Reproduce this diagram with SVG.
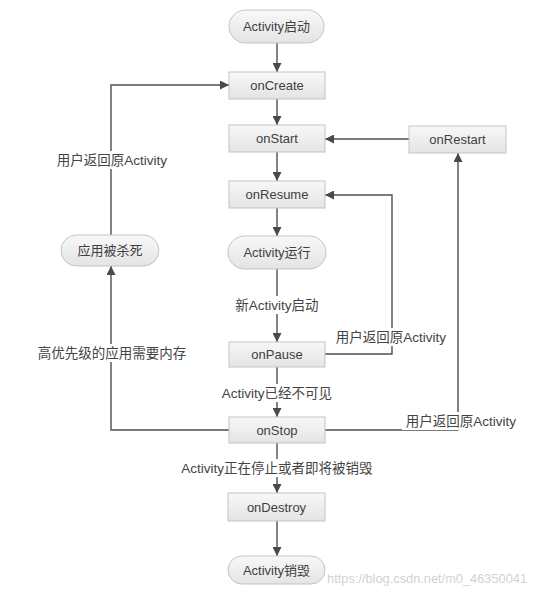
<svg xmlns="http://www.w3.org/2000/svg" width="535" height="596" viewBox="0 0 535 596">
<defs>
<linearGradient id="g" x1="0" y1="0" x2="0" y2="1">
<stop offset="0" stop-color="#f8f8f8"/>
<stop offset="1" stop-color="#e4e4e4"/>
</linearGradient>
<marker id="ah" viewBox="0 0 10 10" refX="10" refY="5" markerWidth="9" markerHeight="9" markerUnits="userSpaceOnUse" orient="auto">
<path d="M0,0 L10,5 L0,10 z" fill="#4a4a4a"/>
</marker>
</defs>
<style>
.box{fill:url(#g);stroke:#c4c4c4;stroke-width:1}
.t{font-family:"Liberation Sans","Noto Sans CJK SC",sans-serif;font-size:13px;fill:#3f3f3f;text-anchor:middle}
.l{font-family:"Liberation Sans","Noto Sans CJK SC",sans-serif;font-size:13.5px;fill:#444;text-anchor:middle}
.c{fill:none;stroke:#4f4f4f;stroke-width:1.4}
.bg{fill:#fff}
</style>
<rect width="535" height="596" fill="#fff"/>
<g id="connectors">
<path class="c" d="M277,43 V72" marker-end="url(#ah)"/>
<path class="c" d="M277,99 V125" marker-end="url(#ah)"/>
<path class="c" d="M277,152 V181" marker-end="url(#ah)"/>
<path class="c" d="M277,208 V236" marker-end="url(#ah)"/>
<path class="c" d="M277,269 V342" marker-end="url(#ah)"/>
<path class="c" d="M277,367 V417" marker-end="url(#ah)"/>
<path class="c" d="M277,443 V493" marker-end="url(#ah)"/>
<path class="c" d="M277,521 V556" marker-end="url(#ah)"/>
<path class="c" d="M409,139 H325" marker-end="url(#ah)"/>
<path class="c" d="M325,354 H392 V195 H325" marker-end="url(#ah)"/>
<path class="c" d="M325,430 H458 V153" marker-end="url(#ah)"/>
<path class="c" d="M229,430 H111 V266" marker-end="url(#ah)"/>
<path class="c" d="M111,235 V85 H229" marker-end="url(#ah)"/>
<rect class="bg" x="230" y="296" width="92" height="18"/>
<text class="l" x="277" y="310">新Activity启动</text>
<rect class="bg" x="333" y="328" width="118" height="18"/>
<text class="l" x="391" y="342">用户返回原Activity</text>
<rect class="bg" x="215" y="384" width="122" height="18"/>
<text class="l" x="277" y="398">Activity已经不可见</text>
<rect class="bg" x="402" y="412" width="120" height="18"/>
<text class="l" x="461" y="426">用户返回原Activity</text>
<rect class="bg" x="30" y="344" width="164" height="18"/>
<text class="l" x="112" y="358">高优先级的应用需要内存</text>
<rect class="bg" x="53" y="151" width="118" height="18"/>
<text class="l" x="112" y="165">用户返回原Activity</text>
<rect class="bg" x="174" y="459" width="205" height="18"/>
<text class="l" x="277" y="473">Activity正在停止或者即将被销毁</text>
</g>
<g id="start"><rect class="box" x="229" y="10" width="95" height="33" rx="16.5"/><text class="t" x="276.5" y="31">Activity启动</text></g>
<g id="onCreate"><rect class="box" x="229" y="72" width="96" height="27"/><text class="t" x="277" y="90">onCreate</text></g>
<g id="onStart"><rect class="box" x="229" y="125" width="96" height="27"/><text class="t" x="277" y="143">onStart</text></g>
<g id="onRestart"><rect class="box" x="409" y="126" width="97" height="27"/><text class="t" x="457.5" y="144">onRestart</text></g>
<g id="onResume"><rect class="box" x="229" y="181" width="96" height="27"/><text class="t" x="277" y="199">onResume</text></g>
<g id="running"><rect class="box" x="228" y="236" width="98" height="33" rx="16.5"/><text class="t" x="277" y="257">Activity运行</text></g>
<g id="killed"><rect class="box" x="61" y="235" width="98" height="31" rx="15.5"/><text class="t" x="110" y="255">应用被杀死</text></g>
<g id="onPause"><rect class="box" x="229" y="342" width="96" height="25"/><text class="t" x="277" y="359">onPause</text></g>
<g id="onStop"><rect class="box" x="229" y="417" width="96" height="26"/><text class="t" x="277" y="435">onStop</text></g>
<g id="onDestroy"><rect class="box" x="228" y="493" width="97" height="28"/><text class="t" x="276.5" y="512">onDestroy</text></g>
<g id="destroyed"><rect class="box" x="228" y="556" width="97" height="28" rx="14"/><text class="t" x="276.5" y="575">Activity销毁</text></g>
<text x="527" y="583" text-anchor="end" font-family="Liberation Sans, sans-serif" font-size="12.8" fill="#c8c8c8" fill-opacity="0.85">https://blog.csdn.net/m0_46350041</text>
</svg>
